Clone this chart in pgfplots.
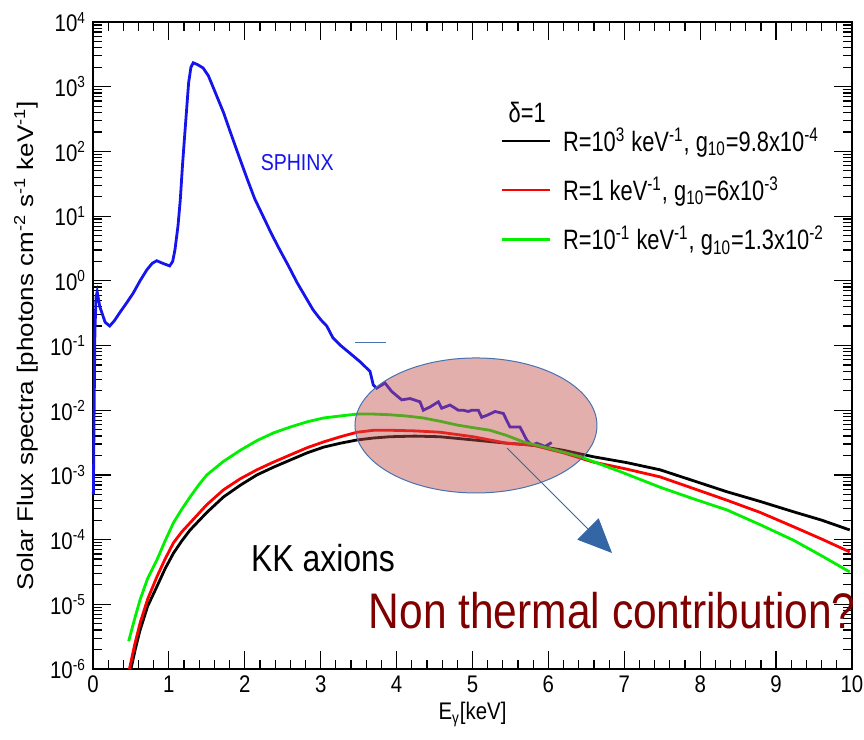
\documentclass[border=0pt]{standalone}
\usepackage{fontspec}
\setmainfont{Liberation Sans}[FakeStretch=0.85]
\newfontfamily\ylabfont{Liberation Sans}[FakeStretch=1.15]
\newfontfamily\legfont{Liberation Sans}[FakeStretch=0.78]
\usepackage{pgfplots}
\pgfplotsset{compat=1.18}
\usetikzlibrary{arrows.meta}

\definecolor{sphinx}{RGB}{20,20,235}
\definecolor{kkgreen}{RGB}{0,240,0}
\definecolor{kkred}{RGB}{255,0,0}
\definecolor{ellfill}{RGB}{192,80,77}
\definecolor{ellline}{RGB}{70,114,178}
\definecolor{arrowblue}{RGB}{52,101,164}
\definecolor{ntred}{RGB}{128,0,0}

\begin{document}
\begin{tikzpicture}
\begin{axis}[
  scale only axis, width=379.5pt, height=323.5pt,
  ymode=log, xmin=0, xmax=10, ymin=1e-6, ymax=1e4,
  clip=false,
  axis line style={line width=0.9pt},
  tick style={black, line width=0.6pt},
  tick align=inside,
  major tick length=9pt, minor tick length=4.5pt,
  xtick={0,1,...,10}, minor x tick num=4,
  ytick={1e-6,1e-5,1e-4,1e-3,1e-2,1e-1,1,10,100,1000,10000},
  yticklabels={10\textsuperscript{-6},10\textsuperscript{-5},10\textsuperscript{-4},10\textsuperscript{-3},10\textsuperscript{-2},10\textsuperscript{-1},10\textsuperscript{0},10\textsuperscript{1},10\textsuperscript{2},10\textsuperscript{3},10\textsuperscript{4}},
  minor ytick={2e-6,3e-6,4e-6,5e-6,6e-6,7e-6,8e-6,9e-6,
    2e-5,3e-5,4e-5,5e-5,6e-5,7e-5,8e-5,9e-5,
    2e-4,3e-4,4e-4,5e-4,6e-4,7e-4,8e-4,9e-4,
    2e-3,3e-3,4e-3,5e-3,6e-3,7e-3,8e-3,9e-3,
    2e-2,3e-2,4e-2,5e-2,6e-2,7e-2,8e-2,9e-2,
    0.2,0.3,0.4,0.5,0.6,0.7,0.8,0.9,
    2,3,4,5,6,7,8,9,
    20,30,40,50,60,70,80,90,
    200,300,400,500,600,700,800,900,
    2000,3000,4000,5000,6000,7000,8000,9000},
  /pgf/number format/assume math mode=true,
  ticklabel style={font=\fontsize{12}{14}\selectfont},
  xlabel={E\textsubscript{γ}[keV]},
  every axis x label/.style={at={(rel axis cs:0.5,0)}, anchor=north, yshift=-13pt,
    font=\fontsize{12}{14}\selectfont},
  ylabel={\ylabfont Solar Flux spectra [photons cm\textsuperscript{-2} s\textsuperscript{-1} keV\textsuperscript{-1}]},
  every axis y label/.style={at={(rel axis cs:0,0.5)}, xshift=-33.5pt, rotate=90, anchor=center,
    font=\fontsize{11.3}{13}\selectfont},
  legend style={draw=none, fill=none, at={(axis cs:5.36,275)}, anchor=north west,
    font=\fontsize{14}{16}\legfont, row sep=7pt, inner sep=0pt,
    cells={anchor=west}},
  legend image code/.code={\draw[#1] (0pt,0pt) -- (24pt,0pt); \path (28pt,0pt);},
]
\coordinate (bl) at (rel axis cs:0,0);
\coordinate (tr) at (rel axis cs:1,1);

% SPHINX measured spectrum
\addplot[sphinx, line width=1.4pt, forget plot] coordinates {
(0.005,5.01e-4) (0.015,1.0e-2) (0.025,0.158) (0.04,0.562) (0.055,0.676)
(0.09,0.398) (0.16,0.229) (0.22,0.200) (0.28,0.240) (0.36,0.331)
(0.45,0.468) (0.53,0.646) (0.62,1.0) (0.71,1.479) (0.78,1.862)
(0.84,2.042) (0.92,1.862) (1.01,1.698) (1.05,1.995) (1.08,3.02)
(1.12,7.08) (1.15,17.8) (1.18,63.1) (1.21,190.5) (1.24,562)
(1.26,1148) (1.29,1995) (1.32,2344) (1.38,2188) (1.45,1950)
(1.52,1479) (1.58,1000) (1.65,631) (1.72,398) (1.80,214)
(1.90,100) (2.03,38.0) (2.13,18.6) (2.24,10.0) (2.35,5.37)
(2.46,3.02) (2.58,1.66) (2.69,0.933) (2.80,0.562) (2.90,0.355)
(3.00,0.251) (3.08,0.200) (3.16,0.132) (3.254,0.102) (3.386,0.0759)
(3.518,0.0562) (3.650,0.0398) (3.693,0.0245) (3.738,0.0219) (3.847,0.0263)
(3.935,0.0195) (4.067,0.01445) (4.177,0.01514) (4.308,0.01349) (4.352,0.0100)
(4.440,0.01122) (4.550,0.01349) (4.594,0.01072) (4.704,0.01202) (4.813,0.0100)
(4.879,0.0100) (4.945,0.00955) (4.989,0.0100) (5.077,0.0100) (5.121,0.00776)
(5.209,0.00851) (5.296,0.00955) (5.406,0.00891) (5.494,0.00550) (5.626,0.00550)
(5.714,0.00347) (5.780,0.00288) (5.846,0.00309) (5.955,0.00275) (6.043,0.00316)
};
\addplot[ellline, line width=0.6pt, forget plot] coordinates {(3.45,0.112) (3.86,0.112)};

% KK axion spectra, delta = 1
\addplot[black, line width=1.4pt] coordinates {
(0.50,1.0e-6) (0.56,2.09e-6) (0.62,3.98e-6) (0.72,9.33e-6) (0.84,1.86e-5)
(0.95,3.55e-5) (1.06,6.17e-5) (1.17,9.55e-5) (1.28,1.41e-4) (1.50,2.63e-4)
(1.72,4.57e-4) (1.94,6.92e-4) (2.16,1.0e-3) (2.38,1.32e-3) (2.60,1.70e-3)
(2.82,2.19e-3) (3.04,2.69e-3) (3.26,3.09e-3) (3.48,3.47e-3) (3.70,3.72e-3)
(3.91,3.89e-3) (4.24,3.98e-3) (4.57,3.89e-3) (5.01,3.47e-3) (5.45,3.09e-3)
(5.80,2.88e-3) (6.20,2.40e-3) (6.59,1.91e-3) (7.03,1.55e-3) (7.47,1.20e-3)
(7.91,8.13e-4) (8.35,5.50e-4) (8.79,3.89e-4) (9.23,2.69e-4) (9.60,2.00e-4)
(9.97,1.41e-4)
};
\addlegendentry{R=10\textsuperscript{3} keV\textsuperscript{-1}, g\textsubscript{10}=9.8x10\textsuperscript{-4}}

\addplot[kkred, line width=1.4pt] coordinates {
(0.48,1.0e-6) (0.55,2.40e-6) (0.62,5.13e-6) (0.72,1.20e-5) (0.84,2.63e-5)
(0.95,5.01e-5) (1.06,8.91e-5) (1.17,1.32e-4) (1.28,1.82e-4) (1.50,3.47e-4)
(1.72,5.89e-4) (1.94,8.71e-4) (2.16,1.20e-3) (2.38,1.58e-3) (2.60,2.04e-3)
(2.82,2.63e-3) (3.04,3.24e-3) (3.26,3.89e-3) (3.48,4.57e-3) (3.70,4.90e-3)
(3.91,4.90e-3) (4.24,4.79e-3) (4.57,4.57e-3) (5.01,3.89e-3) (5.45,3.09e-3)
(5.80,2.88e-3) (6.20,2.19e-3) (6.59,1.58e-3) (7.03,1.23e-3) (7.47,9.33e-4)
(7.91,6.17e-4) (8.35,4.07e-4) (8.79,2.63e-4) (9.23,1.58e-4) (9.60,1.02e-4)
(9.97,6.46e-5)
};
\addlegendentry{R=1 keV\textsuperscript{-1}, g\textsubscript{10}=6x10\textsuperscript{-3}}

\addplot[kkgreen, line width=1.4pt] coordinates {
(0.47,2.69e-6) (0.55,6.03e-6) (0.62,1.175e-5) (0.72,2.51e-5) (0.84,4.79e-5)
(0.95,9.55e-5) (1.06,1.82e-4) (1.17,2.95e-4) (1.28,4.57e-4) (1.39,6.92e-4)
(1.50,1.0e-3) (1.72,1.62e-3) (1.94,2.40e-3) (2.16,3.39e-3) (2.38,4.47e-3)
(2.60,5.50e-3) (2.82,6.61e-3) (3.04,7.59e-3) (3.25,8.13e-3) (3.48,8.71e-3)
(3.70,8.71e-3) (3.91,8.51e-3) (4.13,8.13e-3) (4.35,7.59e-3) (4.57,6.76e-3)
(4.80,5.89e-3) (5.01,5.37e-3) (5.23,4.90e-3) (5.45,4.07e-3) (5.67,3.24e-3)
(5.98,2.63e-3) (6.42,1.91e-3) (6.95,1.12e-3) (7.47,6.46e-4) (7.91,4.27e-4)
(8.35,2.88e-4) (8.79,1.70e-4) (9.23,9.77e-5) (9.60,5.62e-5) (9.97,3.16e-5)
};
\addlegendentry{R=10\textsuperscript{-1} keV\textsuperscript{-1}, g\textsubscript{10}=1.3x10\textsuperscript{-2}}

% highlighted region and pointer
\fill[ellfill, opacity=0.46] (axis cs:5.046,5.81e-3) ellipse [x radius=60.5pt, y radius=33.75pt];
\draw[ellline, line width=0.5pt] (axis cs:5.046,5.81e-3) ellipse [x radius=60.5pt, y radius=33.75pt];
\draw[arrowblue, line width=0.5pt, -{Triangle[length=17pt,width=15pt]}]
  (axis cs:5.455,2.606e-3) -- (axis cs:6.838,6.21e-5);

\node[font=\fontsize{14}{16}\legfont] at (axis cs:5.72,393) {δ=1};
\node[sphinx, font=\fontsize{11.5}{13}\selectfont] at (axis cs:2.69,66) {SPHINX};
\node[font=\fontsize{18.8}{21}\selectfont] at (axis cs:3.03,5.25e-5) {KK axions};
\node[ntred, font=\fontsize{25}{28}\selectfont] at (axis cs:6.84,8.1e-6) {Non thermal contribution?};
\end{axis}
\pgfresetboundingbox
\path[use as bounding box] ([shift={(-46.5pt,-35.5pt)}]bl) rectangle ([shift={(6pt,11pt)}]tr);
\end{tikzpicture}
\end{document}
